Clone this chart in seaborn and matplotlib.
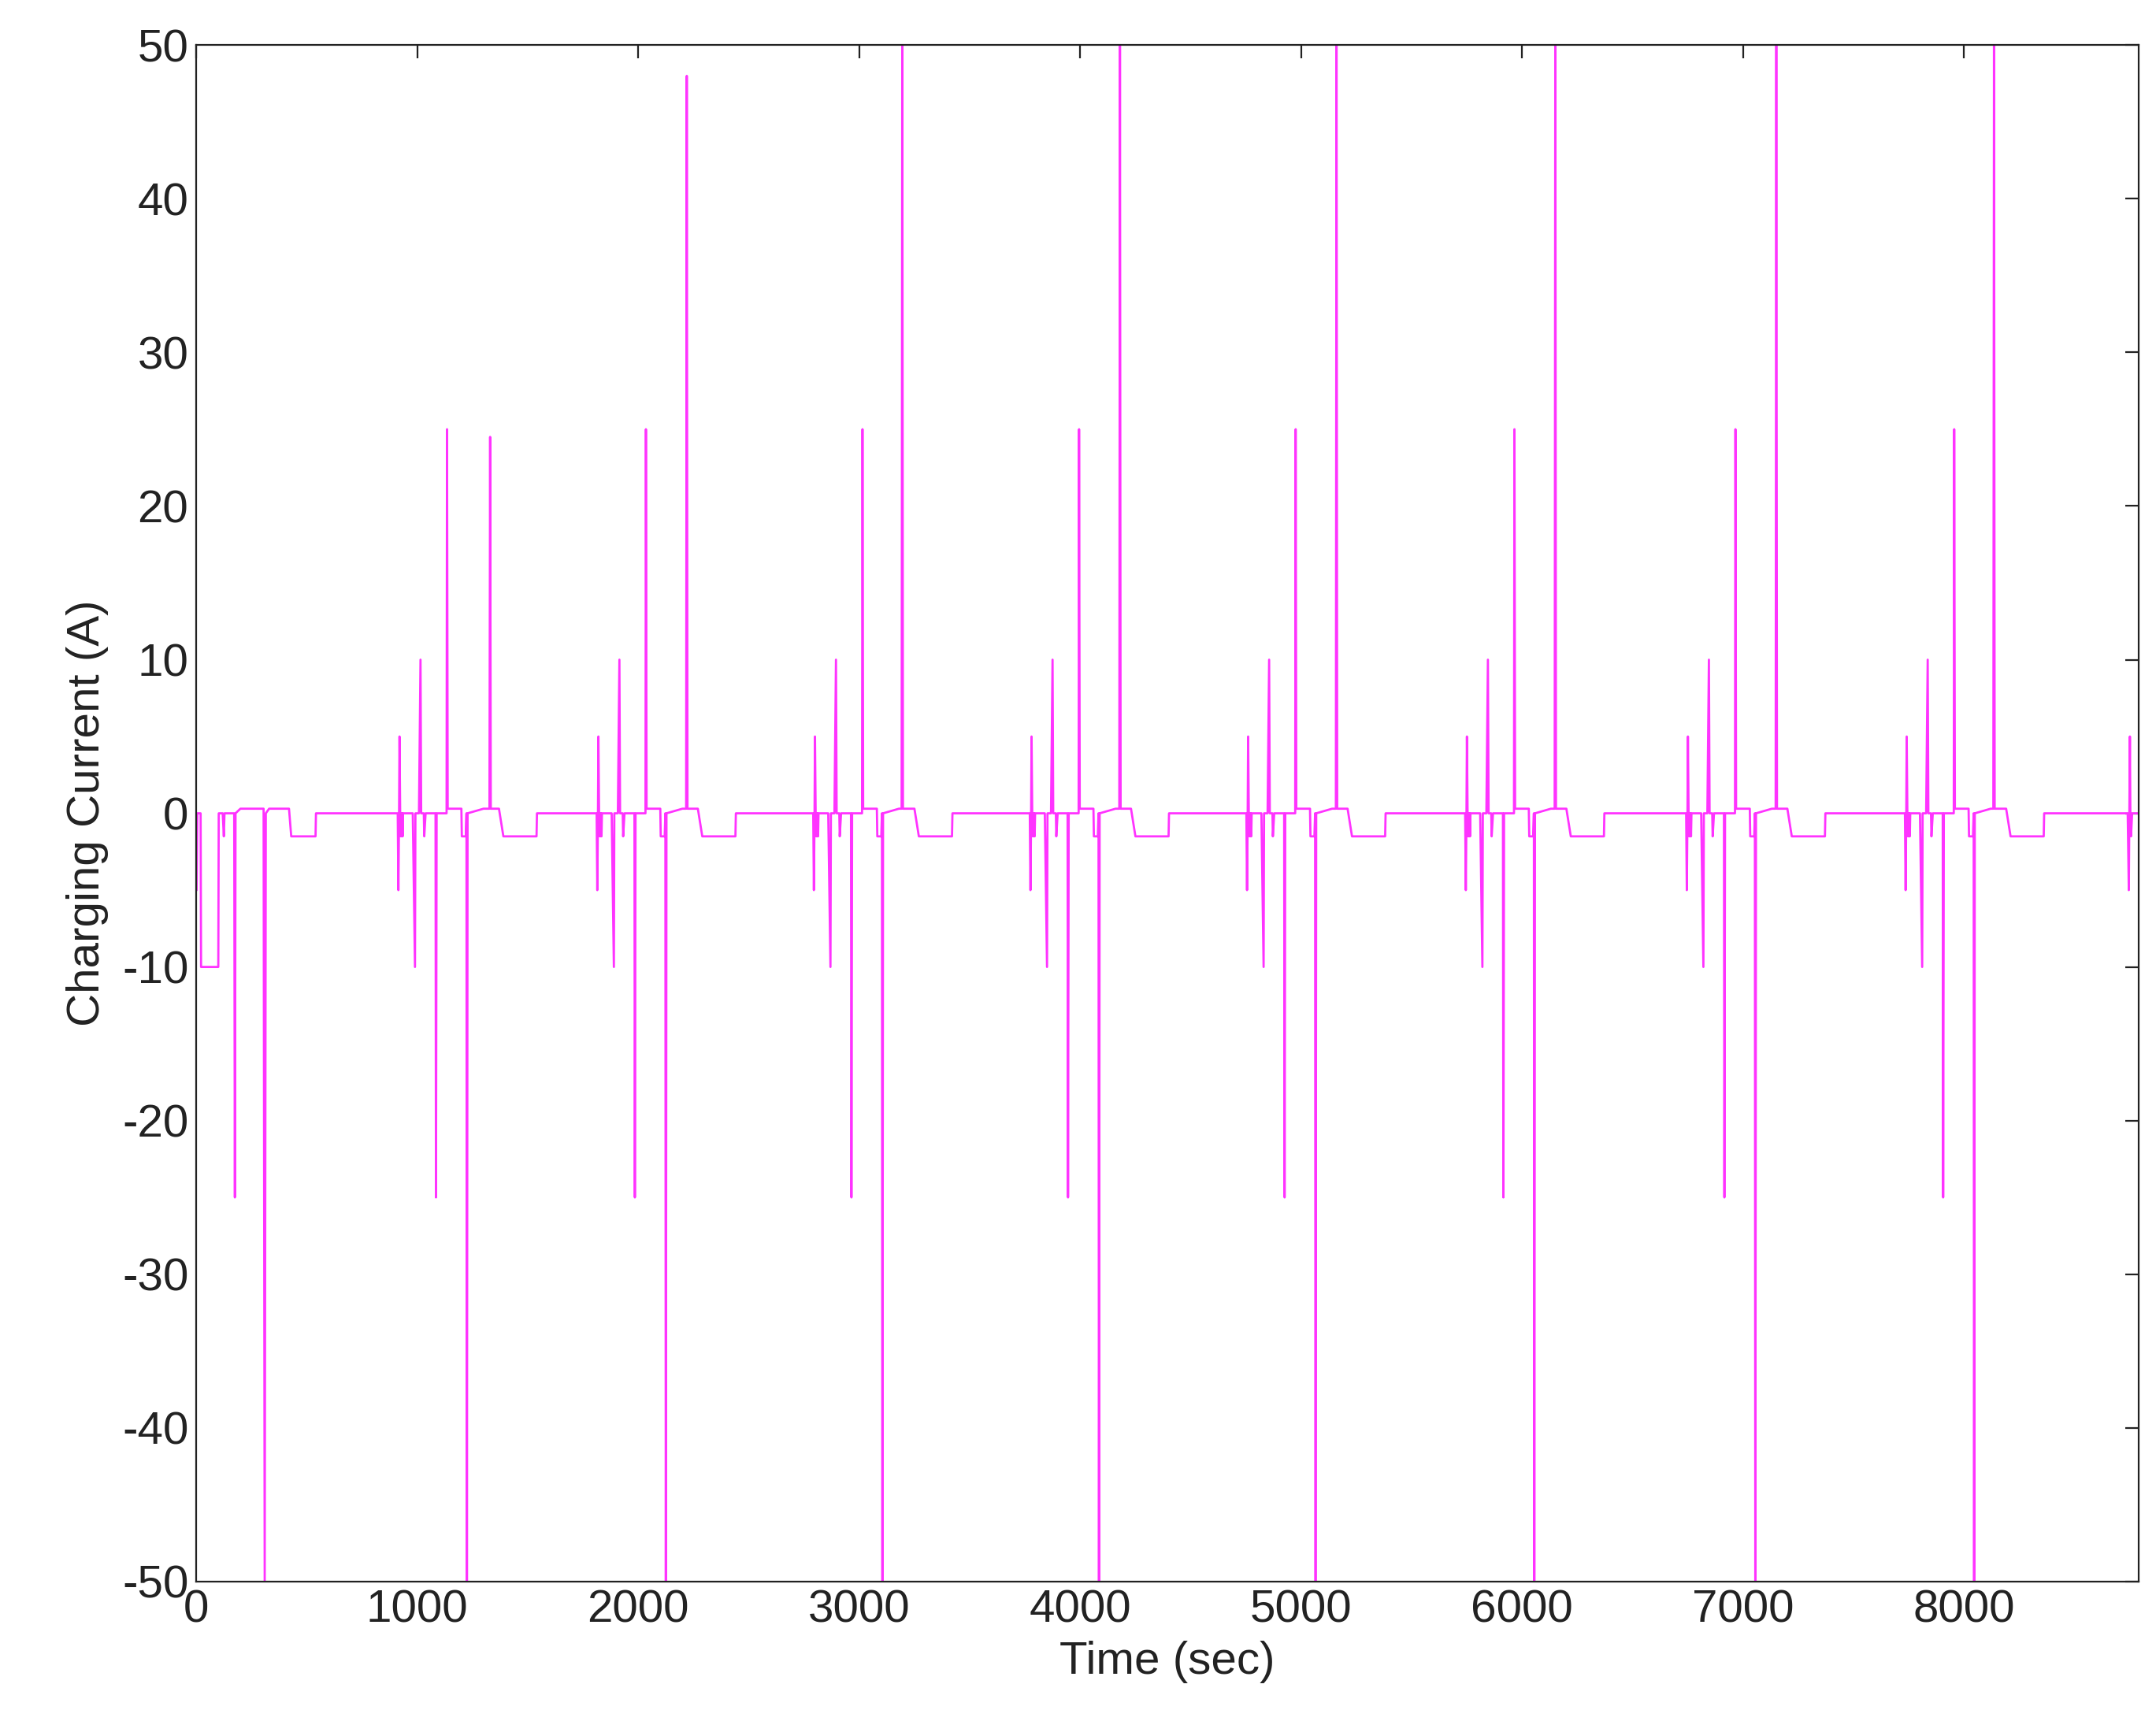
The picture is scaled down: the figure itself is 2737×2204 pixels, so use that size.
import numpy as np
import matplotlib
matplotlib.use("Agg")
import matplotlib.pyplot as plt
import seaborn as sns
import pandas as pd

# cycle start times (sec)
cycle_starts = [920, 1820, 2800, 3780, 4760, 5750, 6750, 7740]
# big positive peak per cycle
pos_peaks = [24.5, 48, 50, 50, 50, 50, 50, 50]
pos_peak_offsets = [410, 400, 395, 400, 400, 400, 400, 395]
# template of one cycle: offset (sec) and current (A)
cyc_off = [-8, -5, -2, 0, 3, 6, 8, 10, 12, 14, 16, 60, 70, 72, 88, 95, 98, 110, 112, 118, 163, 165, 168,
           213, 215, 218, 230, 280, 282, 300, 303, 305, 308, 380]
cyc_val = [0, -5, 0, 5, 0, -1.5, 0, -1.5, 0, -1.5, 0, 0, -10, 0, 0, 10, 0, 0, -1.5, 0, 0, -25, 0,
           0, 25, 0.3, 0.3, 0.3, -1.5, -1.5, 0, -50, 0, 0.3]
tail_off = [450, 470, 620, 622]
tail_val = [0.3, -1.5, -1.5, 0]
# first (partial) cycle starting at t=0
first_t = [0, 2, 5, 20, 22, 100, 102, 120, 125, 128, 172, 175, 178, 200, 305, 310, 315, 330, 420, 430, 540, 542]
first_v = [0, -5, 0, 0, -10, -10, 0, 0, -1.5, 0, 0, -25, 0, 0.3, 0.3, -50, 0, 0.3, 0.3, -1.5, -1.5, 0]
end_t = [8740, 8745, 8750, 8752, 8755, 8760, 8790]
end_v = [0, -5, 5, 0, -1.5, 0, 0]

ts, vs = list(first_t), list(first_v)
for s, pk, po in zip(cycle_starts, pos_peaks, pos_peak_offsets):
    ts += [s + o for o in cyc_off]; vs += cyc_val
    ts += [s + po - 3, s + po, s + po + 3]; vs += [0.3, pk, 0.3]
    ts += [s + o for o in tail_off]; vs += tail_val
ts += end_t; vs += end_v
df = pd.DataFrame({"t": ts, "i": vs}).sort_values("t", kind="stable")

sns.set_style("white")
plt.rcParams['font.family'] = ['Liberation Sans', 'DejaVu Sans']
plt.rcParams['axes.unicode_minus'] = False
fig = plt.figure(figsize=(13.685, 11.02), dpi=200)
ax = fig.add_axes([0.091, 0.089, 0.901, 0.885])
sns.lineplot(data=df, x="t", y="i", ax=ax, color="#ff33ff", lw=1.0, sort=False, estimator=None)
ax.set_xlim(0, 8790)
ax.set_ylim(-50, 50)
ax.set_xticks(range(0, 8001, 1000))
ax.set_yticks(range(-50, 51, 10))
ax.tick_params(direction="in", labelsize=21, length=6, top=True, right=True, color="#222222", labelcolor="#222222")
for sp in ax.spines.values():
    sp.set_color("#222222"); sp.set_linewidth(0.8)
ax.set_xlabel("Time (sec)", fontsize=21, color="#222222", labelpad=4)
ax.set_ylabel("Charging Current (A)", fontsize=21, color="#222222", labelpad=6)
fig.savefig("out.png", dpi=200)
